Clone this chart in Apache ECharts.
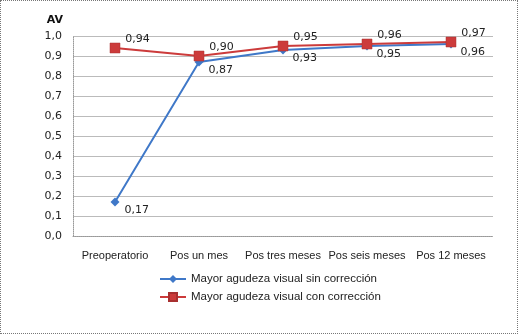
<!DOCTYPE html>
<html><head><meta charset="utf-8">
<script src="https://cdn.jsdelivr.net/npm/echarts@6/dist/echarts.min.js"></script>
<style>html,body{margin:0;padding:0;background:#fff}#c{width:518px;height:334px;box-sizing:border-box;border:1px dotted #777}</style>
</head><body><div id="c"></div>
<script>
var categories = ["Preoperatorio","Pos un mes","Pos tres meses","Pos seis meses","Pos 12 meses"];
var sinCorreccion = [0.17,0.87,0.93,0.95,0.96];
var conCorreccion = [0.94,0.90,0.95,0.96,0.97];
var seriesNames = ["Mayor agudeza visual sin corrección","Mayor agudeza visual con corrección"];
var yTicks = {min:0,max:1,interval:0.1};
var fmt = function(v){return v.toFixed(2).replace('.',',');};
var chart = echarts.init(document.getElementById('c'));
chart.setOption({
  animation:false,
  grid:{left:72,top:35,width:420,height:200},
  legend:{orient:'vertical',left:158,top:272,padding:0,itemGap:6,itemWidth:26,itemHeight:10,
    textStyle:{fontFamily:'Liberation Sans',fontSize:11.5,color:'#222'},data:seriesNames},
  xAxis:{type:'category',data:categories,boundaryGap:true,
    axisLine:{show:true,lineStyle:{color:'#999',type:'dotted'}},axisTick:{show:false},
    axisLabel:{interval:0,fontFamily:'Liberation Sans',fontSize:11,color:'#222',margin:14}},
  yAxis:{type:'value',min:yTicks.min,max:yTicks.max,interval:yTicks.interval,
    name:'AV',nameLocation:'end',nameGap:10,nameTextStyle:{fontFamily:'DejaVu Sans',fontWeight:'bold',fontSize:11,color:'#111',align:'right',padding:[0,10,0,0]},
    axisLine:{show:true,lineStyle:{color:'#999',type:'dotted'}},axisTick:{show:false},
    splitLine:{lineStyle:{color:'#bbb'}},
    axisLabel:{fontFamily:'DejaVu Sans',fontSize:11,color:'#222',margin:11,formatter:function(v){return v.toFixed(1).replace('.',',');}}},
  series:[
    {name:seriesNames[0],type:'line',data:sinCorreccion,symbol:'diamond',symbolSize:9,
      lineStyle:{color:'#3f78c8',width:2},itemStyle:{color:'#3f78c8'},
      label:{show:true,position:'right',offset:[0,8],fontFamily:'DejaVu Sans',fontSize:11,color:'#222',formatter:function(p){return fmt(p.value);}},z:2},
    {name:seriesNames[1],type:'line',data:conCorreccion,symbol:'rect',symbolSize:10,
      lineStyle:{color:'#cc3b3b',width:2},itemStyle:{color:'#cc3b3b',borderColor:'#a83030',borderWidth:0.5},
      label:{show:true,position:'right',offset:[0,-9],fontFamily:'DejaVu Sans',fontSize:11,color:'#222',formatter:function(p){return fmt(p.value);}},z:3}
  ]
});
</script></body></html>
